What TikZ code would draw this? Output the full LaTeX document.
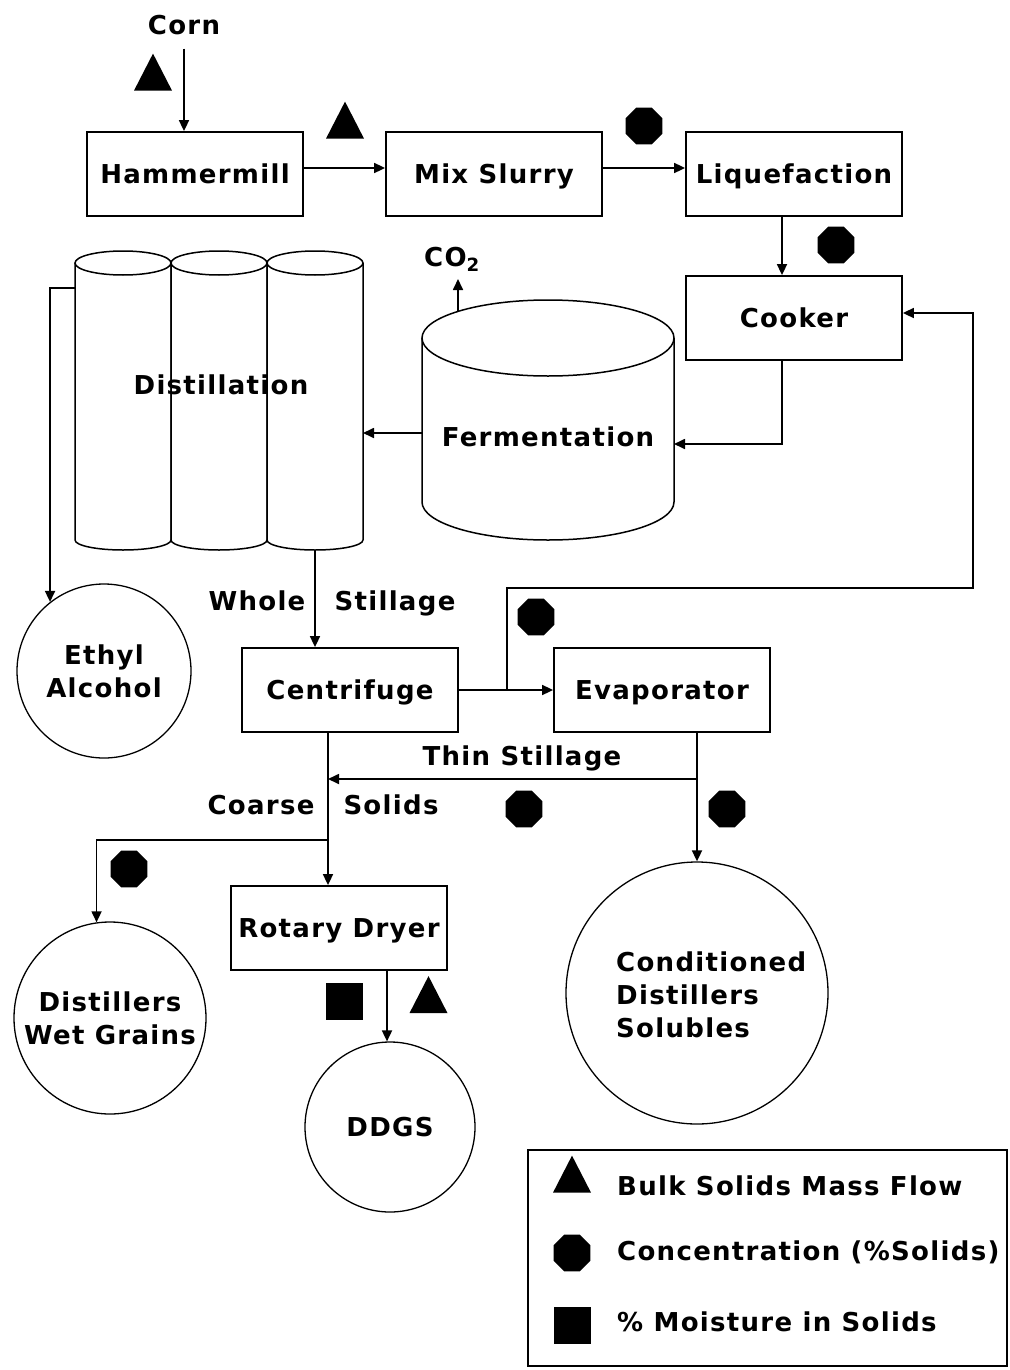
\documentclass[tikz,border=0pt]{standalone}
\usepackage{fontspec}
\setmainfont{DejaVu Sans}[LetterSpace=5]
\usetikzlibrary{shapes.geometric,arrows.meta}
\begin{document}
\begin{tikzpicture}[x=1pt,y=-1pt,
  txt/.style={font=\bfseries\fontsize{26}{33}\selectfont, inner sep=0pt},
  one/.style={text height=19pt, text depth=0pt},
  box/.style={txt, one, draw, line width=1.8pt, minimum width=216pt, minimum height=84pt},
  disc/.style={txt, draw, circle, line width=1.3pt, inner sep=0pt, align=center},
  flow/.style={line width=1.7pt, -{Triangle[length=11pt,width=10pt]}},
  octo/.style={regular polygon, regular polygon sides=8, fill=black, minimum size=40pt, inner sep=0pt},
  tri/.style={isosceles triangle, isosceles triangle stretches, shape border rotate=90, fill=black, minimum width=38pt, minimum height=37pt, inner sep=0pt},
  sqr/.style={rectangle, fill=black, minimum size=37pt, inner sep=0pt},
  vessel/.style={line width=1.5pt}
]
\useasboundingbox (0,0) rectangle (1009,1370);

% process boxes
\node[txt, one] (corn) at (184,25) {Corn};
\node[box] (hammer) at (195,174) {Hammermill};
\node[box] (mix) at (494,174) {Mix Slurry};
\node[box] (liq) at (794,174) {Liquefaction};
\node[box] (cooker) at (794,318) {Cooker};
\node[box] (centri) at (350,690) {Centrifuge};
\node[box] (evap) at (662,690) {Evaporator};
\node[box] (dryer) at (339,928) {Rotary Dryer};

% product circles
\node[disc, minimum size=174pt] (ethyl) at (104,671) {Ethyl\\Alcohol};
\node[disc, minimum size=192pt] (dwg) at (110,1018) {Distillers\\Wet Grains};
\node[disc, minimum size=170pt] (ddgs) at (390,1127) {DDGS};
\node[disc, minimum size=262pt] (cds) at (697,993) {};
\node[txt, align=left, anchor=west] (cdstext) at (616,995) {Conditioned\\Distillers\\Solubles};

% fermentation tank
\draw[vessel] (422,338) -- (422,502) arc[start angle=180, end angle=360, x radius=126pt, y radius=38pt] -- (674,338);
\draw[vessel] (548,338) ellipse [x radius=126pt, y radius=38pt];
\node[txt, one] (ferm) at (548,437) {Fermentation};
\coordinate (fermL) at (422,433);
\coordinate (fermR) at (674,444);
\coordinate (fermTop) at (458,311);
\node[txt, one] (co2) at (452,257) {CO\textsubscript{2}};
\coordinate (co2in) at (458,279);

% distillation columns
\foreach \a in {75,171,267} {
  \draw[vessel] (\a+48,263) ellipse [x radius=48pt, y radius=12pt];
  \draw[vessel] (\a,263) -- (\a,540) arc[start angle=180, end angle=360, x radius=48pt, y radius=10pt] -- (\a+96,263);
}
\node[txt, one] (dist) at (221,385) {Distillation};
\coordinate (distR) at (363,433);
\coordinate (distL) at (75,288);
\coordinate (distB) at (315,550);

% helper coordinates
\coordinate (liqx) at (782,0);
\coordinate (br1) at (507,690);
\coordinate (loopR) at (973,588);
\coordinate (evx) at (697,0);
\coordinate (ts) at (697,779);
\coordinate (cx) at (328,0);
\coordinate (cs) at (328,840);

% connectors
\draw[flow] ([yshift=-14pt]corn.south) -- (corn.south |- hammer.north);
\draw[flow] ([yshift=6pt]hammer.east) -- ([yshift=6pt]mix.west);
\draw[flow] ([yshift=6pt]mix.east) -- ([yshift=6pt]liq.west);
\draw[flow] (liq.south -| liqx) -- (cooker.north -| liqx);
\draw[flow] (cooker.south -| liqx) |- (fermR);
\draw[flow] (fermTop) -- (co2in);
\draw[flow] (fermL) -- (distR);
\draw[flow] (distL) -| (ethyl.128);
\draw[flow] (distB) -- (distB |- centri.north);
\draw[flow] (centri.east) -- (evap.west);
\draw[flow] (br1) |- (loopR) |- ([yshift=5pt]cooker.east);
\draw[flow] (evap.south -| evx) -- (cds.north);
\draw[flow] (ts) -- (ts -| cx);
\draw[flow] (centri.south -| cx) -- (dryer.north -| cx);
\draw[flow] (cs) -| (dwg.98);
\draw[flow] (dryer.south -| ddgs.92) -- (ddgs.92);

% stream labels
\node[txt, one] (whole) at (257,601) {Whole};
\node[txt, one] (stil) at (395,601) {Stillage};
\node[txt, one] (thin) at (522,756) {Thin Stillage};
\node[txt, one] (coarse) at (261,805) {Coarse};
\node[txt, one] (solids) at (391,805) {Solids};

% markers
\node[tri] (t1) at (153,79) {};
\node[tri] (t2) at (345,127) {};
\node[tri] (t3) at (428.5,1001.5) {};
\node[octo] (o1) at (644,126) {};
\node[octo] (o2) at (836,245) {};
\node[octo] (o3) at (536,617) {};
\node[octo] (o4) at (524,809) {};
\node[octo] (o5) at (727,809) {};
\node[octo] (o6) at (129,869) {};
\node[sqr] (s1) at (344.5,1001.5) {};

% legend
\node[draw, line width=1.5pt, minimum width=479pt, minimum height=216pt, inner sep=0pt] (legend) at (767.5,1258) {};
\node[tri] (lt) at (572,1181) {};
\node[octo] (lo) at (572,1253) {};
\node[sqr] (ls) at (572,1325) {};
\node[txt, one, anchor=west] (l1) at (617,1186) {Bulk Solids Mass Flow};
\node[txt, one, anchor=west] (l2) at (617,1251) {Concentration (\%Solids)};
\node[txt, one, anchor=west] (l3) at (617,1322) {\% Moisture in Solids};
\end{tikzpicture}
\end{document}
